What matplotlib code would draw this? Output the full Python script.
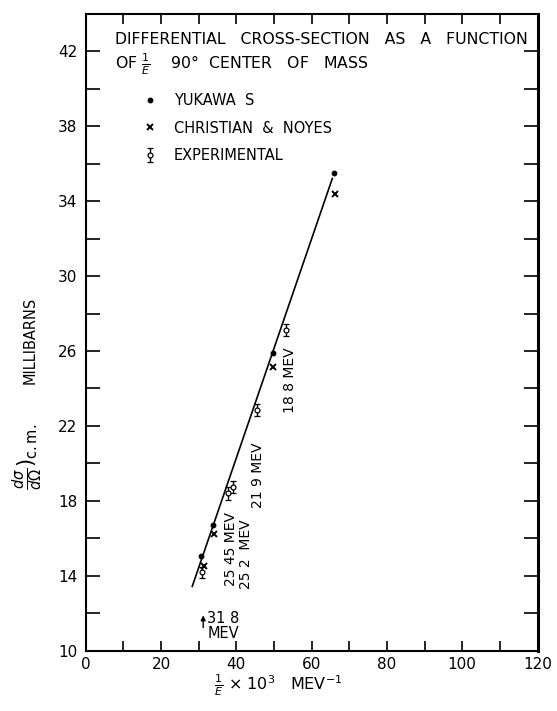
import numpy as np
import matplotlib
matplotlib.use('Agg')
import matplotlib.pyplot as plt
from matplotlib.ticker import MultipleLocator

# values
yukawa_x = [30.6, 33.9, 49.7, 66.0]
yukawa_y = [15.05, 16.7, 25.88, 35.5]

noyes_x = [31.3, 34.2, 49.8, 66.1]
noyes_y = [14.55, 16.25, 25.15, 34.37]

exp_x = [31.0, 37.7, 39.2, 45.4, 53.3]
exp_y = [14.2, 18.4, 18.75, 22.85, 27.12]
exp_err = [0.3, 0.35, 0.3, 0.3, 0.3]

fit_x = [28.3, 65.5]
fit_y = [13.45, 35.2]

energy_labels = ['25 45 MEV', '25 2  MEV', '21 9 MEV', '18 8 MEV']
energy_label_x = [38.7, 42.6, 45.8, 54.3]
energy_label_top = [17.4, 17.0, 21.1, 26.2]

x_ticks = [0, 20, 40, 60, 80, 100, 120]
y_ticks = [10, 14, 18, 22, 26, 30, 34, 38, 42]

FS = 10.5

fig = plt.figure(figsize=(5.57, 7.11), dpi=100)
ax = fig.add_axes([0.1539, 0.0844, 0.8111, 0.8966])

ax.plot(fit_x, fit_y, color='black', lw=1.2)
yuk, = ax.plot(yukawa_x, yukawa_y, 'o', color='black', ms=3.2, ls='none')
noy, = ax.plot(noyes_x, noyes_y, 'x', color='black', ms=4.5, mew=1.4, ls='none')
exp = ax.errorbar(exp_x, exp_y, yerr=exp_err, fmt='o', mfc='white', mec='black',
                  ms=3.5, mew=0.9, ecolor='black', elinewidth=1.0, capsize=2.5, capthick=1.0)

for lab, lx, ly in zip(energy_labels, energy_label_x, energy_label_top):
    ax.text(lx, ly, lab, rotation=90, ha='center', va='top', fontsize=10)

# 31.8 MeV marker
ax.annotate('', xy=(31.2, 12.05), xytext=(31.2, 11.1),
            arrowprops=dict(arrowstyle='-|>', color='black', lw=1.0, mutation_scale=7))
ax.text(32.3, 11.75, '31 8', fontsize=FS, ha='left', va='center')
ax.text(36.5, 10.95, 'MEV', fontsize=FS, ha='center', va='center')

ax.text(7.8, 42.6, 'DIFFERENTIAL   CROSS-SECTION   AS   A   FUNCTION', fontsize=11.3,
        va='center')
ax.text(7.8, 41.3, r'OF $\frac{1}{E}$    90°  CENTER   OF   MASS', fontsize=11.3, va='center')

ax.legend([yuk, noy, exp], ['YUKAWA  S', 'CHRISTIAN  &  NOYES', 'EXPERIMENTAL'],
          loc='upper left', bbox_to_anchor=(0.13, 0.875), frameon=False,
          fontsize=FS, handlelength=0.8, handletextpad=1.2, labelspacing=0.85,
          borderpad=0, borderaxespad=0)

ax.set_xlim(0, 120)
ax.set_ylim(10, 44)
ax.set_xticks(x_ticks)
ax.set_yticks(y_ticks)
ax.xaxis.set_minor_locator(MultipleLocator(10))
ax.yaxis.set_minor_locator(MultipleLocator(2))
ax.tick_params(which='both', direction='in', top=True, right=True, labelsize=11,
               width=1.2, color='black')
ax.tick_params(axis='x', which='both', length=7, pad=4)
ax.tick_params(axis='y', which='both', length=10, pad=6)
for s in ax.spines.values():
    s.set_linewidth(1.5)
ax.spines['right'].set_linewidth(2.2)

ax.set_xlabel(r'$\frac{1}{E}$ × 10$^3$   MEV$^{-1}$', fontsize=11.5)
ax.xaxis.set_label_coords(0.4256, -0.034)
fig.text(30 / 557, 1 - 340 / 711, 'MILLIBARNS', rotation=90, ha='center', va='center',
         fontsize=FS)
fig.text(28 / 557, 1 - 457 / 711, r'$\frac{d\sigma}{d\Omega}\left.\right)_{\rm c.m.}$',
         rotation=90, ha='center', va='center', fontsize=15)

fig.savefig('out.png', dpi=100)
